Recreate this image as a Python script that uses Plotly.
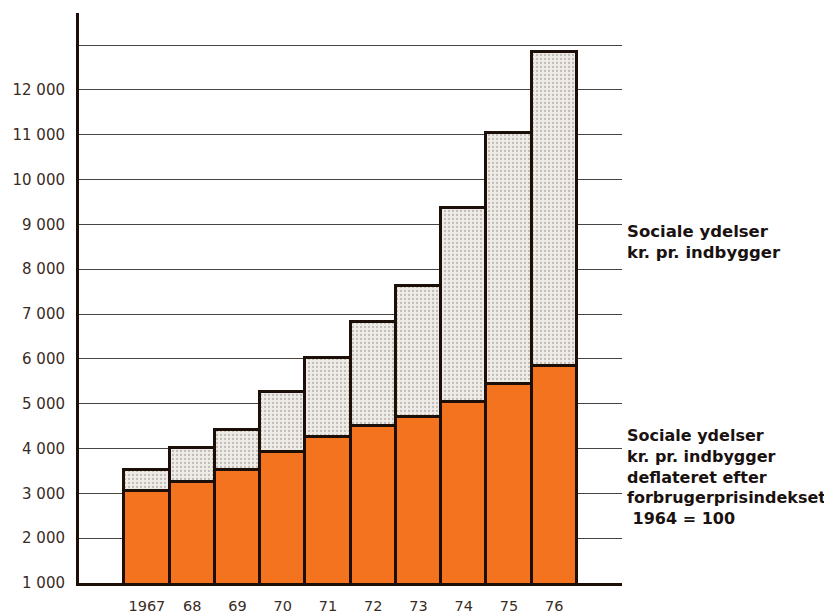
import plotly.graph_objects as go

years = [1967, 1968, 1969, 1970, 1971, 1972, 1973, 1974, 1975, 1976]
year_labels = ["1967", "68", "69", "70", "71", "72", "73", "74", "75", "76"]
total_per_capita = [3530, 4010, 4410, 5270, 6030, 6820, 7620, 9370, 11030, 12850]
deflated_per_capita = [3060, 3250, 3530, 3920, 4260, 4500, 4700, 5040, 5450, 5830]
y_ticks = [1000, 2000, 3000, 4000, 5000, 6000, 7000, 8000, 9000, 10000, 11000, 12000, 13000]
y_tick_labels = ["1 000", "2 000", "3 000", "4 000", "5 000", "6 000", "7 000",
                 "8 000", "9 000", "10 000", "11 000", "12 000", ""]

outline = "#1c0f08"

fig = go.Figure()
fig.add_trace(go.Bar(
    x=years, y=total_per_capita, width=1,
    marker=dict(color="#ece9e4",
                line=dict(color=outline, width=3),
                pattern=dict(shape=".", fgcolor="#8f8a85", bgcolor="#efece8", size=4, solidity=0.25)),
    name="Sociale ydelser kr. pr. indbygger", hoverinfo="x+y",
))
fig.add_trace(go.Bar(
    x=years, y=deflated_per_capita, width=1,
    marker=dict(color="#F4731F", line=dict(color=outline, width=3)),
    name="Deflateret", hoverinfo="x+y",
))

# the page body has an 8px default margin, so the figure is sized to fit the window
fig.update_layout(
    width=824, height=607,
    margin=dict(l=71, r=210, t=5, b=32, pad=0),
    barmode="overlay",
    bargap=0,
    showlegend=False,
    plot_bgcolor="white", paper_bgcolor="white",
    font=dict(family="DejaVu Sans", size=15, color="#3a2c25"),
)
fig.update_xaxes(
    range=[1965.5, 1977.5], tickvals=years, ticktext=year_labels,
    showgrid=False, zeroline=False, automargin=False,
    showline=True, linecolor=outline, linewidth=3,
    ticks="", ticklabelstandoff=8,
    tickfont=dict(family="DejaVu Sans", size=14.5, color="#3a2c25"),
)
fig.update_yaxes(
    range=[1000, 13715], tickvals=y_ticks, ticktext=y_tick_labels,
    showgrid=True, gridcolor="#4a4440", gridwidth=1.3, automargin=False,
    zeroline=False, showline=True, linecolor=outline, linewidth=3,
    ticks="", ticklabelstandoff=8,
    tickfont=dict(family="DejaVu Sans", size=15, color="#3a2c25"),
)

fig.add_annotation(
    xref="paper", yref="paper", x=1.006, y=0.598, xanchor="left", yanchor="middle",
    align="left", showarrow=False,
    text="<b>Sociale ydelser<br>kr. pr. indbygger</b>",
    font=dict(family="DejaVu Sans", size=16.5, color="#1a1210"),
)
fig.add_annotation(
    xref="paper", yref="paper", x=1.006, y=0.186, xanchor="left", yanchor="middle",
    align="left", showarrow=False,
    text="<b>Sociale ydelser<br>kr. pr. indbygger<br>deflateret efter<br>forbrugerprisindekset<br> 1964 = 100</b>",
    font=dict(family="DejaVu Sans", size=16, color="#1a1210"),
)

fig.write_html("out.html")
